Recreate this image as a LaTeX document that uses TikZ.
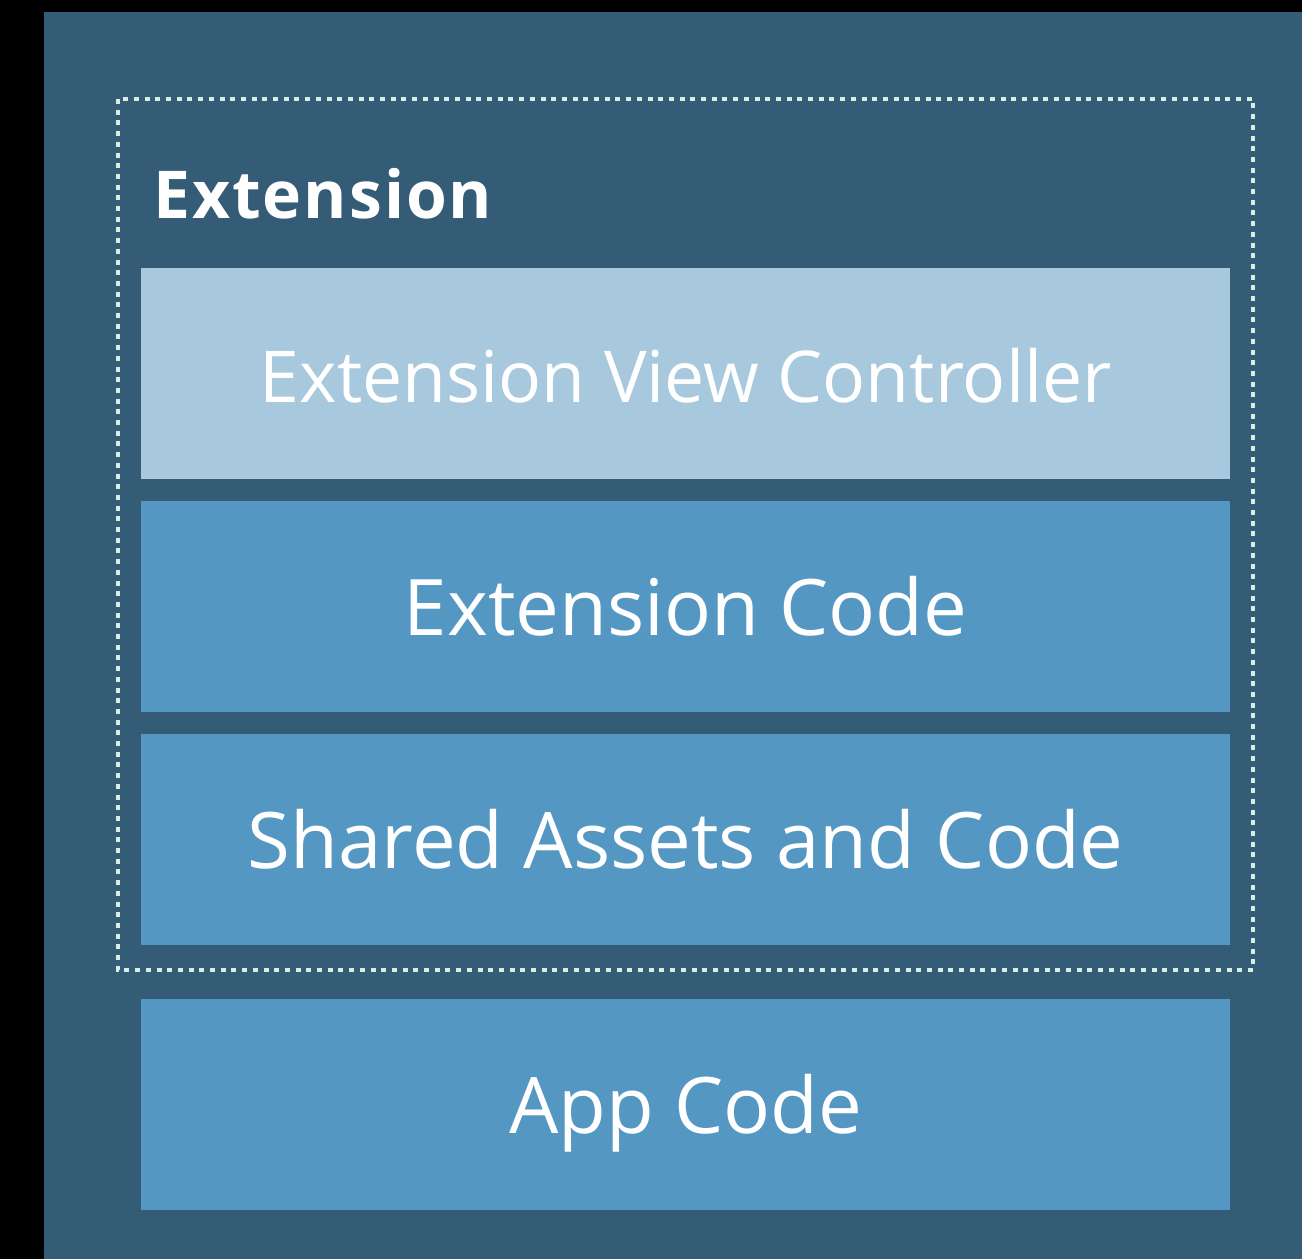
\documentclass[tikz,border=0pt]{standalone}
\usepackage{fontspec}
\setmainfont{Open Sans}
\definecolor{panel}{HTML}{345C76}
\definecolor{midbox}{HTML}{5397C2}
\definecolor{lightbox}{HTML}{A8C9DD}
\definecolor{dotcol}{HTML}{D9EEE2}
\begin{document}
\begin{tikzpicture}[x=1pt,y=-1pt,
  layerbox/.style={minimum width=1089pt,minimum height=211pt,inner sep=0pt,anchor=north west,text=white,
    text height=58pt,text depth=0pt,font=\fontsize{78}{90}\selectfont},
]
\useasboundingbox (0,0) rectangle (1302,1259);
\fill[black] (0,0) rectangle (1302,1259);
\fill[panel] (44,12) rectangle (1302,1259);
\draw[dotcol,line width=4.5pt,dash pattern=on 5pt off 5.7pt] (118,99) rectangle (1253,970);
\node[anchor=base west,text=white,font=\fontsize{66}{70}\selectfont\bfseries\addfontfeatures{LetterSpace=3},inner sep=0pt] (title) at (153,218) {Extension};
\node[layerbox,fill=lightbox,font=\fontsize{71.5}{84}\selectfont] (evc) at (141,268) {Extension View Controller};
\node[layerbox,fill=midbox] (ec) at (141,501) {Extension Code};
\node[layerbox,fill=midbox] (sac) at (141,734) {Shared Assets and Code};
\node[layerbox,fill=midbox] (app) at (141,999) {App Code};
\end{tikzpicture}
\end{document}
